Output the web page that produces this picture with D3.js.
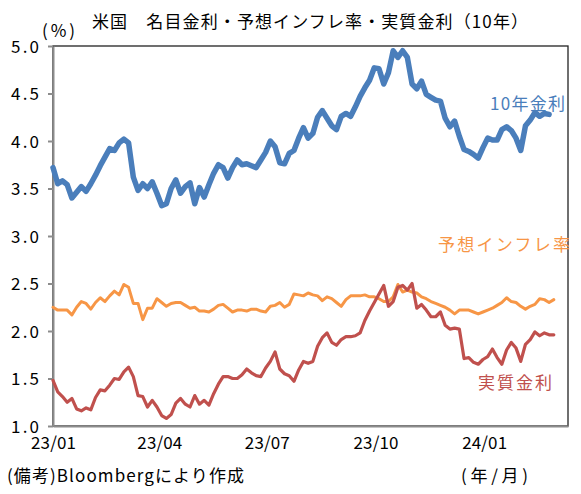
<!DOCTYPE html>
<html>
<head>
<meta charset="utf-8">
<script src="https://cdn.jsdelivr.net/npm/d3@7/dist/d3.min.js"></script>
<style>
    body { margin: 0; background: #fff; }
    svg { display: block; font-family: "Noto Sans CJK JP", "Noto Sans", sans-serif; }
</style>
</head>
<body>
<svg id="chart" width="581" height="494"></svg>
<script>
"use strict";

// observation dates: one reading every 4 calendar days from 2023/01/01
var dates = d3.timeDay.range(new Date(2023, 0, 1), new Date(2024, 2, 2), 4);

// 10年金利 (%)
var nominal10y = [
    3.72, 3.55, 3.58, 3.54, 3.40, 3.46, 3.52, 3.47, 3.55, 3.64,
    3.74, 3.83, 3.92, 3.90, 3.98, 4.02, 3.98, 3.62, 3.48, 3.55,
    3.50, 3.57, 3.45, 3.32, 3.34, 3.50, 3.59, 3.45, 3.52, 3.56,
    3.34, 3.51, 3.41, 3.54, 3.66, 3.75, 3.72, 3.61, 3.72, 3.80,
    3.75, 3.76, 3.74, 3.72, 3.80, 3.88, 4.00, 3.94, 3.77, 3.76,
    3.87, 3.90, 4.03, 4.14, 4.03, 4.08, 4.25, 4.32, 4.24, 4.16,
    4.12, 4.26, 4.29, 4.26, 4.36, 4.47, 4.56, 4.64, 4.77, 4.76,
    4.60, 4.72, 4.95, 4.88, 4.95, 4.88, 4.60, 4.55, 4.63, 4.49,
    4.46, 4.43, 4.42, 4.24, 4.15, 4.21, 4.05, 3.91, 3.89, 3.86,
    3.82, 3.93, 4.03, 4.01, 4.01, 4.12, 4.15, 4.11, 4.03, 3.90,
    4.16, 4.22, 4.30, 4.26, 4.29, 4.28
];

// 予想インフレ率 (%)
var breakeven = [
    2.25, 2.22, 2.22, 2.22, 2.17, 2.25, 2.31, 2.29, 2.23, 2.30,
    2.35, 2.31, 2.37, 2.42, 2.38, 2.49, 2.46, 2.29, 2.29, 2.12,
    2.24, 2.24, 2.34, 2.30, 2.26, 2.29, 2.30, 2.30, 2.27, 2.24,
    2.25, 2.21, 2.21, 2.20, 2.23, 2.27, 2.28, 2.24, 2.20, 2.22,
    2.22, 2.21, 2.23, 2.23, 2.21, 2.20, 2.26, 2.27, 2.30, 2.25,
    2.28, 2.39, 2.38, 2.37, 2.40, 2.38, 2.37, 2.32, 2.36, 2.34,
    2.30, 2.26, 2.33, 2.37, 2.37, 2.37, 2.38, 2.36, 2.36, 2.34,
    2.31, 2.31, 2.36, 2.49, 2.41, 2.43, 2.41, 2.40, 2.36, 2.34,
    2.31, 2.29, 2.27, 2.25, 2.22, 2.18, 2.22, 2.22, 2.22, 2.20,
    2.18, 2.20, 2.22, 2.24, 2.27, 2.30, 2.35, 2.31, 2.30, 2.26,
    2.23, 2.26, 2.28, 2.34, 2.33, 2.30, 2.33
];

// 実質金利 (%)
var realRate = [
    1.48, 1.36, 1.31, 1.25, 1.29, 1.18, 1.16, 1.19, 1.17, 1.30,
    1.38, 1.37, 1.43, 1.50, 1.49, 1.57, 1.62, 1.52, 1.32, 1.31,
    1.20, 1.27, 1.20, 1.11, 1.08, 1.12, 1.24, 1.29, 1.23, 1.20,
    1.32, 1.23, 1.27, 1.22, 1.34, 1.44, 1.52, 1.52, 1.50, 1.50,
    1.54, 1.60, 1.56, 1.53, 1.52, 1.61, 1.68, 1.78, 1.60, 1.55,
    1.53, 1.47, 1.59, 1.68, 1.66, 1.68, 1.84, 1.93, 1.98, 1.88,
    1.85, 1.91, 1.94, 1.94, 1.95, 1.98, 2.11, 2.21, 2.30, 2.39,
    2.48, 2.26, 2.31, 2.46, 2.48, 2.43, 2.50, 2.24, 2.28, 2.22,
    2.15, 2.15, 2.20, 2.06, 2.02, 2.03, 2.02, 1.71, 1.72, 1.67,
    1.65, 1.70, 1.73, 1.81, 1.72, 1.65, 1.80, 1.88, 1.82, 1.68,
    1.86, 1.91, 1.99, 1.95, 1.98, 1.96, 1.96
];

var yTicks = [1.0, 1.5, 2.0, 2.5, 3.0, 3.5, 4.0, 4.5, 5.0];
var xTicks = [new Date(2023, 0, 1), new Date(2023, 3, 1), new Date(2023, 6, 1), new Date(2023, 9, 1), new Date(2024, 0, 1)];

var series = [
    { name: "10年金利", values: nominal10y, color: "#4a7ebb", width: 5.5, label: { x: 490, y: 104, len: 75 } },
    { name: "予想インフレ率", values: breakeven, color: "#f79646", width: 3, label: { x: 438, y: 245, len: 132 } },
    { name: "実質金利", values: realRate, color: "#c0504d", width: 3.2, label: { x: 478, y: 383, len: 74 } }
];

var svg = d3.select("#chart");
var plot = { left: 53, right: 568, top: 46, bottom: 426 };

var x = d3.scaleTime()
    .domain([new Date(2023, 0, 1), new Date(2024, 2, 12)])
    .range([plot.left, plot.right]);
var y = d3.scaleLinear()
    .domain([1, 5])
    .range([plot.bottom, plot.top]);

// frame (top / right are black, left / bottom are the grey axes)
svg.append("rect")
    .attr("x", plot.left).attr("y", plot.top)
    .attr("width", plot.right - plot.left).attr("height", plot.bottom - plot.top)
    .attr("fill", "none").attr("stroke", "#222").attr("stroke-width", 1.3);

var yAxis = svg.append("g")
    .attr("transform", "translate(" + plot.left + ",0)")
    .call(d3.axisLeft(y).tickValues(yTicks).tickSize(5).tickSizeOuter(0).tickFormat(d3.format(".1f")));
yAxis.selectAll("path, line").attr("stroke", "#8c8c8c").attr("stroke-width", 2);
yAxis.selectAll("text")
    .attr("x", -14).attr("dy", "0.36em")
    .attr("fill", "#000").attr("font-size", 17)
    .attr("font-family", "\"Noto Sans CJK JP\", sans-serif")
    .attr("textLength", 28).attr("lengthAdjust", "spacing");

var xAxis = svg.append("g")
    .attr("transform", "translate(0," + plot.bottom + ")")
    .call(d3.axisBottom(x).tickValues(xTicks).tickSize(0).tickSizeOuter(0).tickFormat(d3.timeFormat("%y/%m")));
xAxis.select("path").attr("stroke", "#8c8c8c").attr("stroke-width", 2);
xAxis.selectAll("text")
    .attr("y", 17).attr("dy", "0.36em")
    .attr("fill", "#000").attr("font-size", 17)
    .attr("font-family", "\"Noto Sans CJK JP\", sans-serif")
    .attr("textLength", 45).attr("lengthAdjust", "spacing");

// lines
var line = d3.line()
    .x(function(d, i) { return x(dates[i]); })
    .y(function(d) { return y(d); });

svg.append("g").selectAll("path")
    .data(series)
    .enter().append("path")
    .attr("d", function(s) { return line(s.values); })
    .attr("fill", "none")
    .attr("stroke", function(s) { return s.color; })
    .attr("stroke-width", function(s) { return s.width; })
    .attr("stroke-linejoin", "round")
    .attr("stroke-linecap", "round");

// series labels
svg.append("g").selectAll("text")
    .data(series)
    .enter().append("text")
    .attr("x", function(s) { return s.label.x; })
    .attr("y", function(s) { return s.label.y; })
    .attr("dy", "0.36em")
    .attr("font-size", 17)
    .attr("fill", function(s) { return s.color; })
    .attr("textLength", function(s) { return s.label.len; })
    .attr("lengthAdjust", "spacing")
    .text(function(s) { return s.name; });

// titles and notes
var notes = [
    { text: "米国　名目金利・予想インフレ率・実質金利（10年）", x: 92, y: 22, len: 436 },
    { text: "(%)", x: 42, y: 31, len: 33 },
    { text: "(備考)Bloombergにより作成", x: 7, y: 476, len: 237 },
    { text: "(年/月)", x: 461, y: 476, len: 67 }
];
svg.append("g").selectAll("text")
    .data(notes)
    .enter().append("text")
    .attr("x", function(d) { return d.x; })
    .attr("y", function(d) { return d.y; })
    .attr("dy", "0.36em")
    .attr("font-size", 17)
    .attr("fill", "#000")
    .attr("textLength", function(d) { return d.len; })
    .attr("lengthAdjust", "spacing")
    .text(function(d) { return d.text; });
</script>
</body>
</html>
